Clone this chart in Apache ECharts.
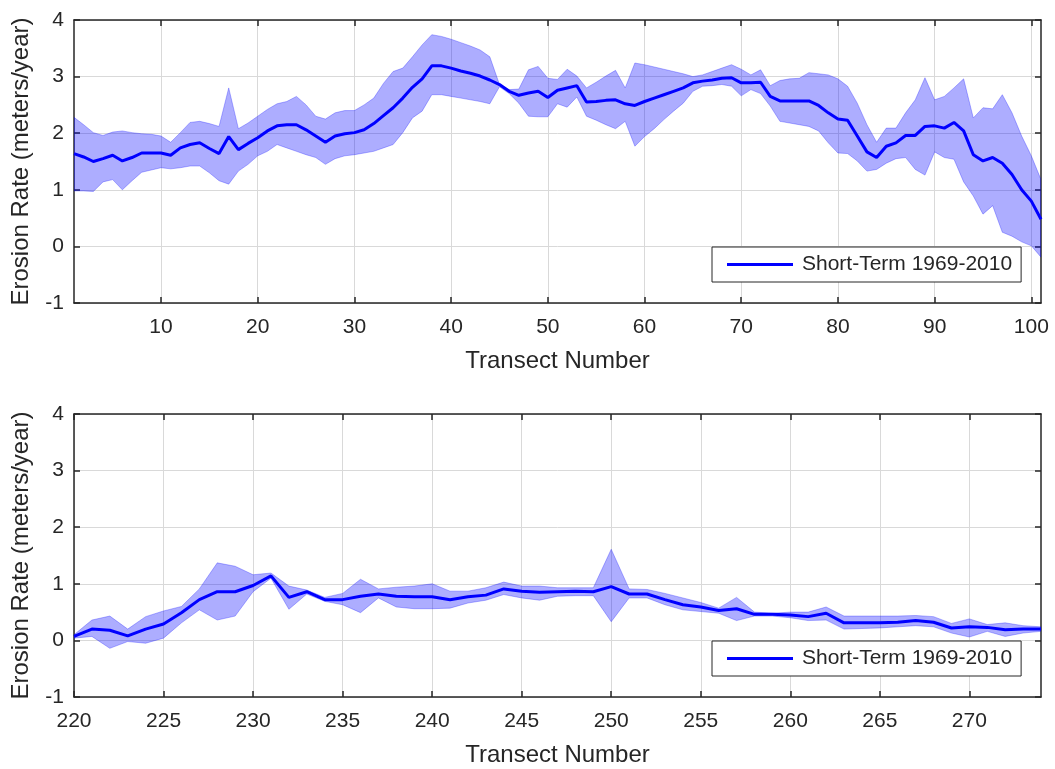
<!DOCTYPE html>
<html>
<head>
<meta charset="utf-8">
<script src="https://cdn.jsdelivr.net/npm/echarts@6/dist/echarts.min.js"></script>
<style>
html, body { margin: 0; padding: 0; background: #fff; }
#main { width: 1055px; height: 769px; }
</style>
</head>
<body>
<div id="main"></div>
<script>
// top panel: transects 1..101
var topStart = 1;
var topMean = [1.64, 1.58, 1.50, 1.55, 1.61, 1.51, 1.57, 1.65, 1.65, 1.65,
  1.61, 1.74, 1.80, 1.83, 1.73, 1.64, 1.94, 1.71, 1.82, 1.92,
  2.04, 2.13, 2.15, 2.15, 2.06, 1.95, 1.84, 1.95, 1.99, 2.01,
  2.06, 2.17, 2.31, 2.45, 2.62, 2.81, 2.96, 3.19, 3.19, 3.15,
  3.10, 3.06, 3.01, 2.94, 2.86, 2.74, 2.67, 2.71, 2.74, 2.63,
  2.76, 2.80, 2.84, 2.55, 2.56, 2.58, 2.59, 2.52, 2.49, 2.56,
  2.62, 2.68, 2.74, 2.80, 2.89, 2.92, 2.94, 2.97, 2.98, 2.89,
  2.89, 2.90, 2.65, 2.57, 2.57, 2.57, 2.57, 2.49, 2.36, 2.25,
  2.23, 1.95, 1.67, 1.57, 1.77, 1.83, 1.96, 1.96, 2.12, 2.13,
  2.09, 2.19, 2.04, 1.62, 1.51, 1.57, 1.47, 1.27, 1.00, 0.80, 0.48];
var topUpper = [2.28, 2.15, 2.01, 1.96, 2.02, 2.04, 2.01, 1.99, 1.98, 1.95,
  1.84, 2.01, 2.19, 2.21, 2.17, 2.12, 2.80, 2.08, 2.18, 2.30,
  2.42, 2.52, 2.56, 2.65, 2.50, 2.30, 2.25, 2.36, 2.40, 2.40,
  2.50, 2.62, 2.88, 3.09, 3.15, 3.35, 3.56, 3.74, 3.71, 3.66,
  3.60, 3.54, 3.47, 3.35, 2.86, 2.77, 2.78, 3.12, 3.18, 2.97,
  2.95, 3.13, 3.01, 2.80, 2.90, 3.01, 3.11, 2.80, 3.24, 3.21,
  3.17, 3.13, 3.09, 3.05, 3.00, 3.03, 3.09, 3.15, 3.21, 3.13,
  3.03, 3.12, 2.84, 2.93, 2.96, 2.97, 3.07, 3.05, 3.03, 2.96,
  2.83, 2.53, 2.15, 1.84, 2.09, 2.09, 2.36, 2.59, 2.98, 2.59,
  2.65, 2.80, 2.96, 2.27, 2.45, 2.43, 2.68, 2.36, 1.95, 1.60, 1.18];
var topLower = [0.98, 0.98, 0.97, 1.14, 1.18, 1.00, 1.16, 1.31, 1.35, 1.39,
  1.37, 1.39, 1.42, 1.42, 1.30, 1.16, 1.10, 1.33, 1.45, 1.60,
  1.68, 1.80, 1.74, 1.68, 1.62, 1.57, 1.45, 1.55, 1.60, 1.62,
  1.65, 1.68, 1.74, 1.80, 2.01, 2.27, 2.39, 2.68, 2.68, 2.65,
  2.62, 2.59, 2.56, 2.52, 2.82, 2.70, 2.53, 2.30, 2.29, 2.29,
  2.52, 2.46, 2.64, 2.30, 2.23, 2.15, 2.08, 2.21, 1.77, 1.94,
  2.08, 2.24, 2.39, 2.53, 2.74, 2.83, 2.84, 2.86, 2.83, 2.66,
  2.77, 2.70, 2.48, 2.21, 2.18, 2.15, 2.12, 2.04, 1.83, 1.65,
  1.64, 1.51, 1.33, 1.36, 1.47, 1.55, 1.57, 1.36, 1.26, 1.67,
  1.57, 1.54, 1.14, 0.89, 0.57, 0.72, 0.25, 0.18, 0.08, 0.01, -0.19];
var topTicks = [10, 20, 30, 40, 50, 60, 70, 80, 90, 100];

// bottom panel: transects 220..274
var botStart = 220;
var botMean = [0.07, 0.20, 0.18, 0.08, 0.20, 0.29, 0.49, 0.72, 0.86, 0.86,
  0.97, 1.14, 0.76, 0.86, 0.72, 0.72, 0.78, 0.82, 0.78, 0.77,
  0.77, 0.72, 0.77, 0.80, 0.91, 0.87, 0.85, 0.86, 0.87, 0.86,
  0.95, 0.82, 0.82, 0.72, 0.63, 0.59, 0.53, 0.56, 0.46, 0.46,
  0.45, 0.42, 0.48, 0.31, 0.31, 0.31, 0.32, 0.35, 0.32, 0.22,
  0.24, 0.23, 0.19, 0.20, 0.20];
var botUpper = [0.10, 0.36, 0.43, 0.20, 0.42, 0.52, 0.60, 0.91, 1.37, 1.31,
  1.16, 1.19, 0.96, 0.89, 0.76, 0.83, 1.08, 0.91, 0.94, 0.96,
  1.00, 0.87, 0.87, 0.93, 1.03, 0.96, 0.96, 0.93, 0.93, 0.93,
  1.61, 0.91, 0.90, 0.83, 0.75, 0.67, 0.57, 0.76, 0.50, 0.48,
  0.50, 0.50, 0.59, 0.43, 0.43, 0.43, 0.43, 0.44, 0.42, 0.30,
  0.38, 0.28, 0.31, 0.26, 0.24];
var botLower = [0.04, 0.07, -0.14, -0.02, -0.05, 0.04, 0.31, 0.54, 0.36, 0.43,
  0.86, 1.10, 0.55, 0.82, 0.69, 0.63, 0.49, 0.75, 0.59, 0.56,
  0.56, 0.57, 0.66, 0.71, 0.81, 0.75, 0.71, 0.78, 0.79, 0.79,
  0.33, 0.75, 0.75, 0.63, 0.54, 0.51, 0.48, 0.35, 0.43, 0.43,
  0.40, 0.35, 0.36, 0.20, 0.21, 0.22, 0.24, 0.26, 0.24, 0.13,
  0.06, 0.16, 0.07, 0.13, 0.16];
var botTicks = [220, 225, 230, 235, 240, 245, 250, 255, 260, 265, 270];

var seriesName = 'Short-Term 1969-2010';

var txt = '#262626';
var font = 'Liberation Sans, Arial, sans-serif';

function pairs(start, ys) {
  return ys.map(function (v, i) { return [start + i, v]; });
}

// bottom (visible) x axis + top mirror
function xAxes(idx, min, max, ticks) {
  return [{
    type: 'value', gridIndex: idx, min: min, max: max, position: 'bottom',
    name: 'Transect Number', nameLocation: 'middle', nameGap: 46,
    nameTextStyle: { color: txt, fontSize: 24, fontFamily: font },
    axisLine: { onZero: false, lineStyle: { color: txt, width: 1.5 } },
    axisTick: { inside: true, length: 6, customValues: ticks, lineStyle: { color: txt, width: 1.5 } },
    axisLabel: { customValues: ticks, color: txt, fontSize: 21, fontFamily: font, margin: 14 },
    splitLine: { show: true, lineStyle: { color: '#d9d9d9', width: 1 } }
  }, {
    type: 'value', gridIndex: idx, min: min, max: max, position: 'top',
    axisLine: { onZero: false, lineStyle: { color: txt, width: 1.5 } },
    axisTick: { inside: true, length: 6, customValues: ticks, lineStyle: { color: txt, width: 1.5 } },
    axisLabel: { show: false },
    splitLine: { show: false }
  }];
}
function yAxes(idx) {
  return [{
    type: 'value', gridIndex: idx, min: -1, max: 4, interval: 1, position: 'left',
    name: 'Erosion Rate (meters/year)', nameLocation: 'middle', nameGap: 41, nameRotate: 90,
    nameTextStyle: { color: txt, fontSize: 24, fontFamily: font },
    axisLine: { show: true, onZero: false, lineStyle: { color: txt, width: 1.5 } },
    axisTick: { show: true, inside: true, length: 6, lineStyle: { color: txt, width: 1.5 } },
    axisLabel: { color: txt, fontSize: 21, fontFamily: font, margin: 10 },
    splitLine: { show: true, lineStyle: { color: '#d9d9d9', width: 1 } }
  }, {
    type: 'value', gridIndex: idx, min: -1, max: 4, interval: 1, position: 'right',
    axisLine: { show: true, onZero: false, lineStyle: { color: txt, width: 1.5 } },
    axisTick: { show: true, inside: true, length: 6, lineStyle: { color: txt, width: 1.5 } },
    axisLabel: { show: false },
    splitLine: { show: false }
  }];
}

// shaded band drawn as one polygon: upper edge forward, lower edge back
function bandSeries(axisIdx, start, up, lo, mean) {
  return [{
    name: 'band', type: 'custom', xAxisIndex: axisIdx, yAxisIndex: axisIdx,
    silent: true, clip: true,
    data: [[start, up[0]]],
    renderItem: function (params, api) {
      var pts = [];
      for (var i = 0; i < up.length; i++) pts.push(api.coord([start + i, up[i]]));
      for (var j = lo.length - 1; j >= 0; j--) pts.push(api.coord([start + j, lo[j]]));
      return {
        type: 'polygon',
        shape: { points: pts },
        style: { fill: 'rgba(0,0,255,0.32)', stroke: 'rgba(0,0,255,0.28)', lineWidth: 1 }
      };
    }
  }, {
    name: seriesName, type: 'line', xAxisIndex: axisIdx, yAxisIndex: axisIdx,
    symbol: 'none', showSymbol: false,
    lineStyle: { color: '#0000ff', width: 3 }, itemStyle: { color: '#0000ff' },
    data: pairs(start, mean)
  }];
}

function legendAt(top) {
  return {
    data: [seriesName], left: 712, top: top, orient: 'horizontal',
    icon: 'rect', itemWidth: 66, itemHeight: 3, itemGap: 5,
    backgroundColor: '#fff', borderColor: txt, borderWidth: 1,
    padding: [7, 9, 7, 15],
    textStyle: { color: txt, fontSize: 21, fontFamily: font, padding: [0, 0, 0, 4] }
  };
}

var chart = echarts.init(document.getElementById('main'));
chart.setOption({
  animation: false,
  backgroundColor: '#fff',
  grid: [
    { left: 74, right: 14, top: 20, height: 283 },
    { left: 74, right: 14, top: 414, height: 283 }
  ],
  legend: [legendAt(247), legendAt(641)],
  xAxis: xAxes(0, 1, 101, topTicks).concat(xAxes(1, 220, 274, botTicks)),
  yAxis: yAxes(0).concat(yAxes(1)),
  series: bandSeries(0, topStart, topUpper, topLower, topMean)
    .concat(bandSeries(2, botStart, botUpper, botLower, botMean))
});
</script>
</body>
</html>
